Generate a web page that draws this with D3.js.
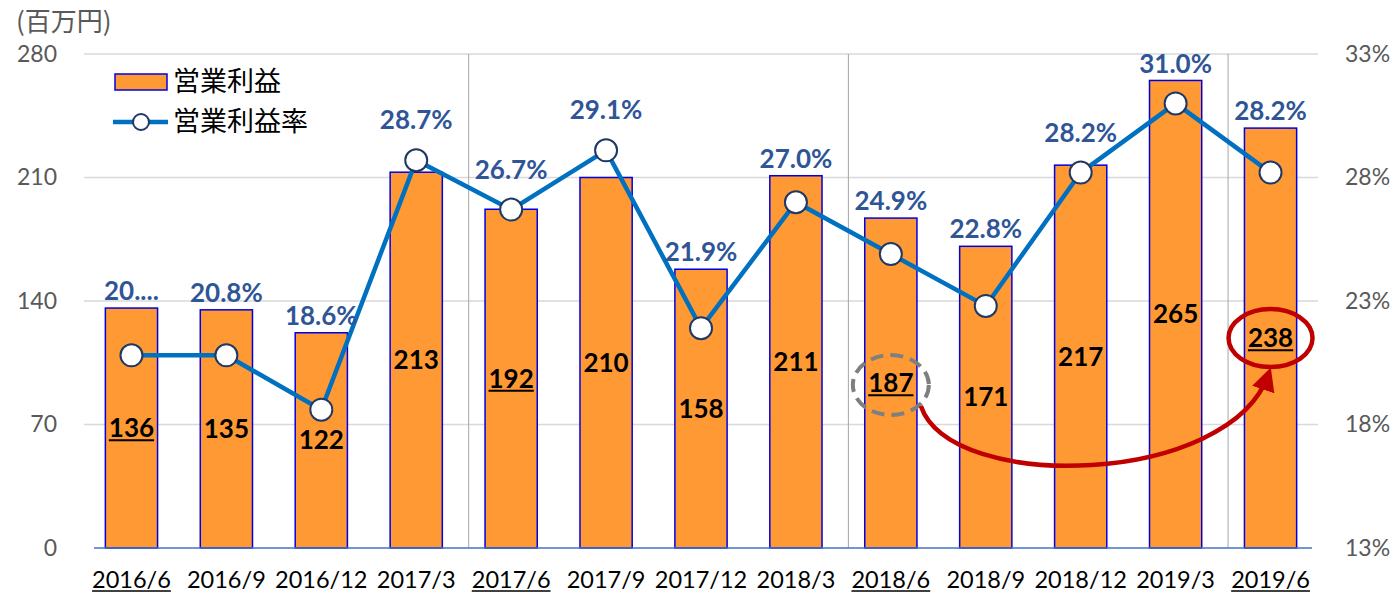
<!DOCTYPE html>
<html>
<head>
<meta charset="utf-8">
<script src="https://cdn.jsdelivr.net/npm/d3@7"></script>
<style>
  body { margin: 0; background: #fff; }
  text { font-family: Lato, "Noto Sans CJK JP", sans-serif; }
  .jp { font-family: "Noto Sans CJK JP", sans-serif; }
</style>
</head>
<body>
<svg width="1398" height="600"></svg>
<script>
// **** data ****
var periods = ['2016/6','2016/9','2016/12','2017/3','2017/6','2017/9','2017/12','2018/3','2018/6','2018/9','2018/12','2019/3','2019/6'];
var profit = [136, 135, 122, 213, 192, 210, 158, 211, 187, 171, 217, 265, 238];
var margin = [20.8, 20.8, 18.6, 28.7, 26.7, 29.1, 21.9, 27.0, 24.9, 22.8, 28.2, 31.0, 28.2];
var marginLabels = ['20....','20.8%','18.6%','28.7%','26.7%','29.1%','21.9%','27.0%','24.9%','22.8%','28.2%','31.0%','28.2%'];
var leftTicks = [0, 70, 140, 210, 280];
var rightTicks = [13, 18, 23, 28, 33];
var markedPeriods = ['2016/6','2017/6','2018/6','2019/6'];
var dividerAfter = ['2017/3','2018/3','2019/3'];
var legendNames = ['営業利益','営業利益率'];

// **** scales ****
var x = d3.scaleBand().domain(periods).range([84, 1318]).padding(0);
var yL = d3.scaleLinear().domain([0, 280]).range([548, 54]);
var yR = d3.scaleLinear().domain([13, 33]).range([548, 54]);
var barW = x.bandwidth() * 0.55;
function cx(p) { return x(p) + x.bandwidth() / 2; }

var svg = d3.select('svg');

// grid lines
svg.append('g').selectAll('line')
    .data(leftTicks.slice(1))
    .enter().append('line')
    .attr('x1', 84).attr('x2', 1318)
    .attr('y1', function(d){ return yL(d); })
    .attr('y2', function(d){ return yL(d); })
    .attr('stroke', '#d9d9d9').attr('stroke-width', 1.5);

// vertical dividers
svg.append('g').selectAll('line')
    .data(dividerAfter)
    .enter().append('line')
    .attr('x1', function(d){ return x(d) + x.bandwidth() + 5; })
    .attr('x2', function(d){ return x(d) + x.bandwidth() + 5; })
    .attr('y1', yL(280)).attr('y2', yL(0))
    .attr('stroke', '#a6a6a6').attr('stroke-width', 1);

// left axis
var gL = svg.append('g').attr('transform', 'translate(57,0)')
    .call(d3.axisLeft(yL).tickValues(leftTicks).tickSize(0).tickPadding(0));
gL.select('.domain').remove();
gL.selectAll('text').attr('font-size', 23).attr('fill', '#595959')
    .style('font-family', 'Lato, sans-serif');

// right axis
var gR = svg.append('g').attr('transform', 'translate(1345,0)')
    .call(d3.axisRight(yR).tickValues(rightTicks).tickSize(0).tickPadding(0)
        .tickFormat(function(d){ return d + '%'; }));
gR.select('.domain').remove();
gR.selectAll('text').attr('font-size', 23).attr('fill', '#595959')
    .style('font-family', 'Lato, sans-serif');

// unit label
svg.append('text')
    .attr('class', 'jp')
    .attr('x', 16).attr('y', 31)
    .attr('font-size', 26).attr('fill', '#595959')
    .text('(百万円)');

// bars
svg.append('g').selectAll('rect')
    .data(periods)
    .enter().append('rect')
    .attr('x', function(d){ return cx(d) - barW / 2; })
    .attr('width', barW)
    .attr('y', function(d, i){ return yL(profit[i]); })
    .attr('height', function(d, i){ return yL(0) - yL(profit[i]); })
    .attr('fill', '#ff9933')
    .attr('stroke', '#0000e6').attr('stroke-width', 1.5);

// baseline
svg.append('line')
    .attr('x1', 94).attr('x2', 1312)
    .attr('y1', yL(0)).attr('y2', yL(0))
    .attr('stroke', '#4472c4').attr('stroke-width', 1.5);

// helper: underline a text node
function underline(sel, color, width, gap) {
    sel.each(function(){
        var b = this.getBBox();
        d3.select(this.parentNode).append('line')
            .attr('x1', b.x).attr('x2', b.x + b.width)
            .attr('y1', b.y + b.height + gap).attr('y2', b.y + b.height + gap)
            .attr('stroke', color).attr('stroke-width', width);
    });
}

// bar value labels
var valG = svg.append('g');
var vals = valG.selectAll('text')
    .data(periods)
    .enter().append('text')
    .attr('x', function(d){ return cx(d); })
    .attr('y', function(d, i){ return (yL(profit[i]) + yL(0)) / 2; })
    .attr('text-anchor', 'middle').attr('dy', '0.35em')
    .attr('font-size', 26).attr('font-weight', 'bold').attr('fill', '#000')
    .text(function(d, i){ return profit[i]; });
underline(vals.filter(function(d){ return markedPeriods.indexOf(d) >= 0; }), '#000', 2, -3);

// line
var line = d3.line()
    .x(function(d){ return cx(d); })
    .y(function(d, i){ return yR(margin[i]); });
svg.append('path')
    .datum(periods)
    .attr('d', line)
    .attr('fill', 'none')
    .attr('stroke', '#0070c0').attr('stroke-width', 4.5);

svg.append('g').selectAll('circle')
    .data(periods)
    .enter().append('circle')
    .attr('cx', function(d){ return cx(d); })
    .attr('cy', function(d, i){ return yR(margin[i]); })
    .attr('r', 11)
    .attr('fill', '#fff')
    .attr('stroke', '#1f3864').attr('stroke-width', 2);

// margin labels (above bar or point, whichever is higher)
svg.append('g').selectAll('text')
    .data(periods)
    .enter().append('text')
    .attr('x', function(d){ return cx(d); })
    .attr('y', function(d, i){
        return Math.min(yL(profit[i]) - 17, yR(margin[i]) - 40);
    })
    .attr('text-anchor', 'middle').attr('dy', '0.35em')
    .attr('font-size', 26).attr('font-weight', 'bold').attr('fill', '#2f5597')
    .text(function(d, i){ return marginLabels[i]; });

// x labels
var xG = svg.append('g');
var xl = xG.selectAll('text')
    .data(periods)
    .enter().append('text')
    .attr('x', function(d){ return cx(d); })
    .attr('y', 588)
    .attr('text-anchor', 'middle')
    .attr('font-size', 23.5).attr('fill', '#000')
    .text(function(d){ return d; });
underline(xl.filter(function(d){ return markedPeriods.indexOf(d) >= 0; }), '#000', 1.5, -2);

// legend
var leg = svg.append('g');
leg.append('rect')
    .attr('x', 115).attr('y', 74).attr('width', 52).attr('height', 16)
    .attr('fill', '#ff9933').attr('stroke', '#0000e6').attr('stroke-width', 1.5);
leg.append('text').attr('class', 'jp')
    .attr('x', 173).attr('y', 82).attr('dy', '0.35em')
    .attr('font-size', 27).attr('fill', '#000').text(legendNames[0]);
leg.append('line')
    .attr('x1', 113).attr('x2', 168).attr('y1', 122).attr('y2', 122)
    .attr('stroke', '#0070c0').attr('stroke-width', 4.5);
leg.append('circle')
    .attr('cx', 141).attr('cy', 122).attr('r', 8)
    .attr('fill', '#fff').attr('stroke', '#1f3864').attr('stroke-width', 2);
leg.append('text').attr('class', 'jp')
    .attr('x', 173).attr('y', 122).attr('dy', '0.35em')
    .attr('font-size', 27).attr('fill', '#000').text(legendNames[1]);

// annotations
var from = '2018/6', to = '2019/6';
var fi = periods.indexOf(from), ti = periods.indexOf(to);
var fy = (yL(profit[fi]) + yL(0)) / 2, ty = (yL(profit[ti]) + yL(0)) / 2;

svg.append('ellipse')
    .attr('cx', cx(from)).attr('cy', fy + 2).attr('rx', 38).attr('ry', 30)
    .attr('fill', 'none').attr('stroke', '#7f7f7f').attr('stroke-width', 4)
    .attr('stroke-dasharray', '13,7');

svg.append('ellipse')
    .attr('cx', cx(to)).attr('cy', ty).attr('rx', 42).attr('ry', 29)
    .attr('fill', 'none').attr('stroke', '#c00000').attr('stroke-width', 4.5);

svg.append('defs').append('marker')
    .attr('id', 'arrow').attr('viewBox', '0 0 10 10')
    .attr('refX', 7).attr('refY', 5)
    .attr('markerWidth', 5.2).attr('markerHeight', 5.2)
    .attr('orient', 'auto')
    .append('path').attr('d', 'M0,0 L10,5 L0,10 Z').attr('fill', '#c00000');

var sx = cx(from) + 30, sy = fy + 23;
var ex = cx(to) - 2, ey = ty + 36;
svg.append('path')
    .attr('d', 'M' + sx + ',' + sy + ' C' + (sx + 30) + ',' + (sy + 88) + ' ' + (ex - 38) + ',' + (sy + 80) + ' ' + ex + ',' + ey)
    .attr('fill', 'none').attr('stroke', '#c00000').attr('stroke-width', 4.5)
    .attr('marker-end', 'url(#arrow)');
</script>
</body>
</html>
